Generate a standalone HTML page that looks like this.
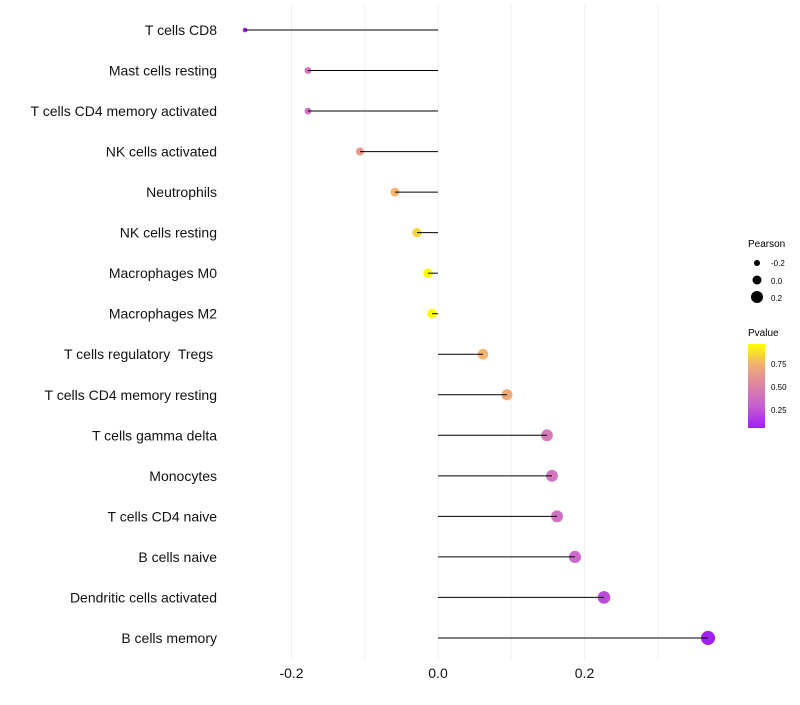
<!DOCTYPE html>
<html><head><meta charset="utf-8"><style>
body{margin:0;background:#fff;font-family:"Liberation Sans",sans-serif;}
svg text{font-family:"Liberation Sans",sans-serif;white-space:pre;}
</style></head><body>
<svg id="chart" width="800" height="700" xmlns="http://www.w3.org/2000/svg">
<defs><linearGradient id="pg" x1="0" y1="1" x2="0" y2="0">
<stop offset="0" stop-color="#a020f0"/><stop offset="0.27" stop-color="#c860d0"/><stop offset="0.49" stop-color="#dc80a8"/><stop offset="0.76" stop-color="#f0b070"/><stop offset="1" stop-color="#ffff00"/>
</linearGradient></defs>
<g id="grid"></g><g id="marks"></g><g id="labels"></g>
<g>
<text x="748" y="247" font-size="10">Pearson</text>
<circle cx="757" cy="263" r="3" fill="#000"/>
<text x="771" y="266" font-size="8">-0.2</text>
<circle cx="757" cy="280" r="4.5" fill="#000"/>
<text x="771" y="284" font-size="8">0.0</text>
<circle cx="757" cy="297" r="6" fill="#000"/>
<text x="771" y="301" font-size="8">0.2</text>
<text x="748" y="336" font-size="10">Pvalue</text>
<rect x="748" y="344" width="17" height="84" fill="url(#pg)"/>
<text x="771" y="367" font-size="8">0.75</text>
<text x="771" y="390" font-size="8">0.50</text>
<text x="771" y="413" font-size="8">0.25</text>
</g>
</svg>
<script>
const categories=["T cells CD8","Mast cells resting","T cells CD4 memory activated","NK cells activated","Neutrophils","NK cells resting","Macrophages M0","Macrophages M2","T cells regulatory  Tregs ","T cells CD4 memory resting","T cells gamma delta","Monocytes","T cells CD4 naive","B cells naive","Dendritic cells activated","B cells memory"];
const pearson=[-0.2635,-0.1775,-0.1775,-0.1065,-0.0587,-0.0287,-0.0137,-0.0082,0.0614,0.0942,0.1488,0.1556,0.1625,0.187,0.2266,0.3686];
const pvalues=[0.05,0.35,0.35,0.6,0.75,0.85,0.95,0.97,0.75,0.7,0.4,0.38,0.35,0.3,0.2,0.06];
const xTicks=[-0.2,0.0,0.2];
const xTickLabels=["-0.2","0.0","0.2"];
const gridVals=[-0.2,-0.1,0,0.1,0.2,0.3];
const NS="http://www.w3.org/2000/svg";
function xs(v){return 438+v*732.5;}
function ys(i){return 30+i*40.53;}
function rs(v){return Math.sqrt(Math.max(1,24+70*v));}
const stops=[[0.054,[160,32,240]],[0.3,[205,105,205]],[0.5,[222,135,165]],[0.75,[242,180,110]],[0.967,[255,255,0]]];
function col(p){if(p<=stops[0][0])return "rgb("+stops[0][1]+")";for(let k=1;k<stops.length;k++){if(p<=stops[k][0]){const a=stops[k-1],b=stops[k];const t=(p-a[0])/(b[0]-a[0]);return "rgb("+a[1].map((c,j)=>Math.round(c+(b[1][j]-c)*t)).join(",")+")";}}return "rgb(255,255,0)";}
function mk(tag,attrs,parent){const e=document.createElementNS(NS,tag);for(const k in attrs)e.setAttribute(k,attrs[k]);parent.appendChild(e);return e;}
const grid=document.getElementById('grid'),marks=document.getElementById('marks'),labels=document.getElementById('labels');
gridVals.forEach(v=>{const l=mk('line',{x1:xs(v),x2:xs(v),y1:5,y2:660,stroke:'#f0f0f0','stroke-width':1},grid);

});
categories.forEach((c,i)=>{
const y=ys(i);
const pt=mk('circle',{cx:xs(pearson[i]),cy:y,r:rs(pearson[i]),fill:col(pvalues[i])},marks);


const sg=mk('line',{x1:xs(0),x2:xs(pearson[i]),y1:y,y2:y,stroke:'#000','stroke-width':1},marks);


const t=mk('text',{x:217,y:y+5,'text-anchor':'end','font-size':14,fill:'#111'},labels);
t.textContent=c;


});
xTicks.forEach((v,i)=>{const t=mk('text',{x:xs(v),y:678,'text-anchor':'middle','font-size':14,fill:'#111'},labels);
t.textContent=xTickLabels[i];

});
</script>
</body></html>
